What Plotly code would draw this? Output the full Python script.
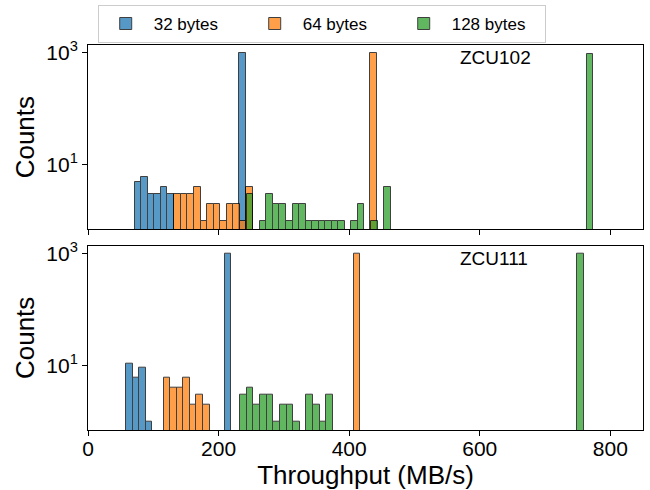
import numpy as np
import plotly.graph_objects as go
from plotly.subplots import make_subplots

# ---------------- data ----------------
series_names = ["32 bytes", "64 bytes", "128 bytes"]
board_names = ["ZCU102", "ZCU111"]
x_tick_values = [0, 200, 400, 600, 800]
y_tick_values = [10, 1000]
y_tick_labels = ["10<sup>1</sup>", "10<sup>3</sup>"]

# histogram ranges (MB/s) and per-bin counts
zcu102_32_range = [71.6, 241.9]
zcu102_32_counts = [5, 6, 3, 3, 4, 3, 0, 0, 0, 0, 0, 0, 0, 0, 0, 0, 976]

zcu102_64_range = [132.3, 442.6]
zcu102_64_counts = [3, 3, 3, 4, 1, 2, 2, 1, 2, 2, 1, 4,
                    0, 0, 0, 0, 0, 0, 0, 0, 0, 0, 0, 0, 0, 0, 0, 0, 0, 0,
                    972]

zcu102_128_range = [243.1, 774.0]
zcu102_128_counts = [3, 0, 1, 3, 2, 2, 1, 2, 2, 1, 1, 1, 1, 1, 1, 0, 1, 2, 0, 1, 0, 4,
                     0, 0, 0, 0, 0, 0, 0, 0, 0, 0, 0, 0, 0, 0, 0,
                     0, 0, 0, 0, 0, 0, 0, 0, 0, 0, 0, 0, 0, 0, 0,
                     970]

zcu111_32_range = [58.4, 219.4]
zcu111_32_counts = [11, 6, 9, 1, 0, 0, 0, 0, 0, 0, 0, 0, 0, 0, 0, 973]

zcu111_64_range = [115.9, 416.7]
zcu111_64_counts = [6, 4, 4, 6, 2, 3, 2,
                    0, 0, 0, 0, 0, 0, 0, 0, 0, 0, 0, 0, 0, 0, 0, 0, 0, 0, 0, 0, 0, 0,
                    973]

zcu111_128_range = [233.2, 759.5]
zcu111_128_counts = [3, 4, 2, 3, 3, 1, 2, 2, 1, 0, 3, 2, 1, 3,
                     0, 0, 0, 0, 0, 0, 0, 0, 0, 0, 0, 0, 0, 0, 0, 0, 0, 0, 0,
                     0, 0, 0, 0, 0, 0, 0, 0, 0, 0, 0, 0, 0, 0, 0, 0, 0, 0,
                     970]

panels = [
    [(zcu102_32_range, zcu102_32_counts), (zcu102_64_range, zcu102_64_counts),
     (zcu102_128_range, zcu102_128_counts)],
    [(zcu111_32_range, zcu111_32_counts), (zcu111_64_range, zcu111_64_counts),
     (zcu111_128_range, zcu111_128_counts)],
]

# ---------------- style ----------------
colors = ["#1f77b4", "#ff7f0e", "#2ca02c"]
FONT = "Liberation Sans, Arial, Helvetica, sans-serif"

fig = make_subplots(rows=2, cols=1, shared_xaxes=True, vertical_spacing=0.0426)

for r, panel in enumerate(panels, start=1):
    for s, (rng, counts) in enumerate(panel):
        counts = np.asarray(counts, dtype=float)
        edges = np.linspace(rng[0], rng[1], len(counts) + 1)
        centers = (edges[:-1] + edges[1:]) / 2
        width = edges[1] - edges[0]
        keep = counts > 0
        fig.add_trace(go.Bar(
            x=centers[keep], y=counts[keep], width=width,
            name=series_names[s], legendgroup=series_names[s],
            showlegend=(r == 1),
            marker=dict(color=colors[s], line=dict(color="black", width=1)),
            opacity=0.75,
        ), row=r, col=1)

# y ranges with 5% log margins like matplotlib
for r, panel in enumerate(panels, start=1):
    hi = np.log10(max(max(c) for _, c in panel))
    lo = 0.0
    span = hi - lo
    fig.update_yaxes(type="log", range=[lo - 0.05 * span, hi + 0.05 * span],
                     tickvals=y_tick_values, ticktext=y_tick_labels,
                     row=r, col=1)
    fig.add_annotation(text=board_names[r - 1], xref=("x domain" if r == 1 else "x2 domain"),
                       yref=("y domain" if r == 1 else "y2 domain"),
                       x=0.667, y=0.93, xanchor="left", yanchor="middle",
                       showarrow=False, font=dict(size=19, color="black", family=FONT))

axis_common = dict(showline=True, mirror=True, linecolor="black", linewidth=1,
                   ticks="outside", ticklen=5, tickwidth=1, tickcolor="black",
                   showgrid=False, zeroline=False,
                   tickfont=dict(size=21, color="black", family=FONT))
fig.update_xaxes(**axis_common, range=[0, 850], tickvals=x_tick_values,
                 ticklabelstandoff=-5)
fig.update_yaxes(**axis_common)
fig.update_yaxes(title=dict(text="Counts", font=dict(size=26, color="black", family=FONT),
                            standoff=4))
fig.update_xaxes(title=dict(text="Throughput (MB/s)", font=dict(size=26, color="black", family=FONT),
                            standoff=2), row=2, col=1)

fig.update_layout(
    width=650, height=490,
    margin=dict(l=88, r=7, t=45, b=60, autoexpand=False),
    barmode="overlay", bargap=0,
    plot_bgcolor="white", paper_bgcolor="white",
    font=dict(family=FONT, color="black"),
    legend=dict(orientation="h", x=0.0175, y=1.104, xanchor="left", yanchor="top",
                bordercolor="#cccccc", borderwidth=1, font=dict(size=17),
                entrywidth=88, itemwidth=46, tracegroupgap=0),
)

fig.write_html("out.html", post_script="document.body.style.margin='0px';",
               config={"displayModeBar": False})
